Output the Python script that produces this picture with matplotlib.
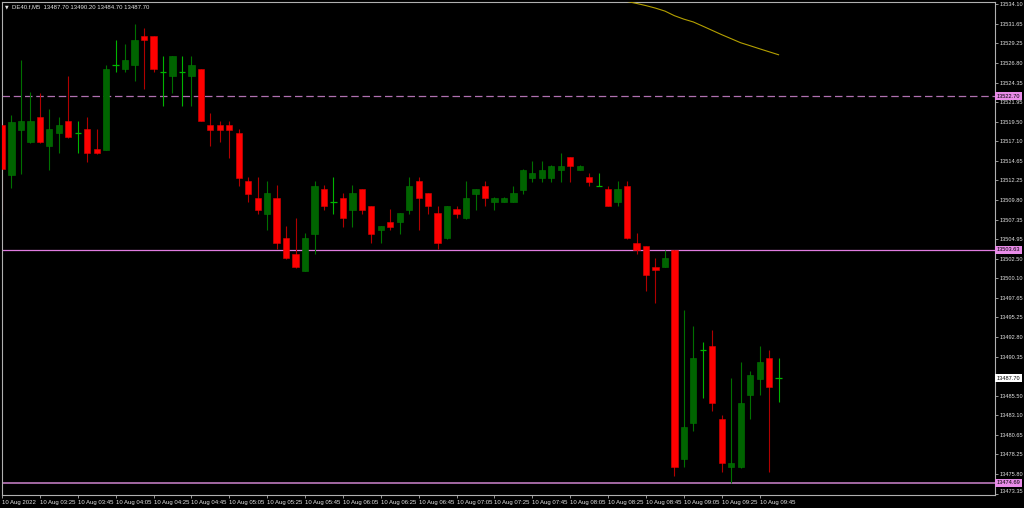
import matplotlib
matplotlib.use("Agg")
import matplotlib.pyplot as plt
import matplotlib.transforms as mtransforms
import numpy as np

plt.rcParams['font.family'] = ['Liberation Sans', 'DejaVu Sans']

# ---------------- data ----------------
symbol_header = "DE40.f,M5  13487.70 13490.20 13484.70 13487.70"

opens = [13519.11, 13512.88, 13518.52, 13517.03, 13520.11, 13516.53, 13518.08, 13519.61, 13518.10, 13518.61,
         13516.08, 13516.03, 13526.62, 13526.08, 13526.62, 13530.16, 13530.16, 13525.67, 13525.17, 13525.67,
         13525.17, 13526.08, 13519.11, 13519.11, 13519.11, 13518.11, 13512.10, 13510.11, 13508.03, 13510.11,
         13505.07, 13503.08, 13501.05, 13505.54, 13511.14, 13509.61, 13510.11, 13508.56, 13511.14, 13509.06,
         13506.07, 13507.07, 13507.07, 13508.56, 13512.10, 13510.64, 13508.15, 13505.04, 13508.65, 13507.53,
         13510.55, 13511.60, 13509.52, 13509.52, 13509.52, 13511.05, 13512.51, 13512.51, 13512.51, 13513.54,
         13515.09, 13513.54, 13512.60, 13511.60, 13511.14, 13509.52, 13511.60, 13504.50, 13504.04, 13501.51,
         13501.51, 13503.58, 13477.64, 13482.16, 13491.18, 13491.67, 13482.66, 13476.61, 13476.61, 13485.61,
         13487.64, 13490.18, 13487.70]
highs = [13519.98, 13520.39, 13527.12, 13523.18, 13523.09, 13521.10, 13520.11, 13525.17, 13519.61, 13520.11,
         13518.61, 13526.62, 13529.69, 13529.16, 13531.69, 13531.15, 13530.20, 13527.66, 13527.70, 13527.66,
         13527.66, 13526.10, 13520.60, 13519.61, 13519.61, 13518.61, 13512.60, 13512.60, 13512.10, 13511.64,
         13506.57, 13507.62, 13505.66, 13512.10, 13511.64, 13512.67, 13510.64, 13511.64, 13511.20, 13509.10,
         13506.60, 13508.65, 13508.20, 13512.67, 13512.67, 13510.70, 13509.06, 13509.10, 13509.06, 13512.10,
         13511.20, 13512.10, 13510.15, 13510.15, 13511.60, 13513.60, 13514.63, 13514.63, 13514.10, 13515.62,
         13515.10, 13514.10, 13513.13, 13513.13, 13511.60, 13512.10, 13512.10, 13505.66, 13504.10, 13502.55,
         13503.58, 13503.63, 13496.20, 13494.20, 13492.17, 13493.71, 13483.12, 13487.69, 13489.68, 13488.64,
         13491.71, 13491.18, 13490.20]
lows = [13508.03, 13511.23, 13513.09, 13516.90, 13516.90, 13513.51, 13515.58, 13517.50, 13515.58, 13514.54,
        13515.50, 13516.00, 13525.67, 13525.67, 13524.59, 13523.59, 13525.67, 13521.51, 13523.09, 13521.51,
        13521.51, 13519.60, 13516.53, 13517.03, 13515.04, 13511.55, 13509.56, 13508.03, 13506.07, 13503.67,
        13502.50, 13501.40, 13501.00, 13503.04, 13508.56, 13508.03, 13506.49, 13506.49, 13508.03, 13504.50,
        13504.50, 13506.07, 13505.54, 13508.03, 13506.07, 13508.03, 13503.67, 13505.00, 13507.53, 13507.50,
        13508.56, 13509.06, 13508.56, 13509.50, 13509.50, 13510.55, 13512.05, 13512.05, 13512.05, 13512.05,
        13512.05, 13513.50, 13511.55, 13511.55, 13509.00, 13509.06, 13505.00, 13503.04, 13498.56, 13497.03,
        13501.50, 13475.56, 13476.61, 13481.13, 13485.20, 13483.62, 13476.06, 13474.69, 13476.60, 13482.66,
        13485.61, 13476.06, 13484.70]
closes = [13513.63, 13519.52, 13519.61, 13519.61, 13517.03, 13518.61, 13519.11, 13517.58, 13518.08, 13515.58,
          13515.58, 13526.08, 13526.62, 13527.12, 13529.66, 13529.66, 13526.08, 13525.67, 13527.66, 13525.67,
          13526.62, 13519.61, 13518.52, 13518.52, 13518.52, 13512.55, 13510.55, 13508.56, 13510.64, 13504.50,
          13502.55, 13501.46, 13505.07, 13511.60, 13509.06, 13509.61, 13507.53, 13510.64, 13508.56, 13505.54,
          13506.57, 13506.49, 13508.15, 13511.60, 13510.02, 13509.06, 13504.50, 13509.06, 13508.03, 13510.11,
          13511.14, 13510.02, 13510.11, 13510.11, 13510.64, 13513.54, 13513.13, 13513.54, 13514.04, 13514.04,
          13514.04, 13514.04, 13512.05, 13511.60, 13509.06, 13511.14, 13505.04, 13503.58, 13500.55, 13501.09,
          13502.55, 13476.61, 13481.59, 13490.18, 13491.18, 13484.65, 13477.11, 13477.14, 13484.65, 13488.10,
          13489.68, 13486.64, 13487.70]

# moving average (only its visible tail, from bar 65 on)
ma_start = 65
ma_values = [13534.75, 13534.45, 13534.20, 13533.93, 13533.62, 13533.25, 13532.68, 13532.25, 13531.90,
             13531.38, 13530.85, 13530.32, 13529.82, 13529.32, 13528.95, 13528.57, 13528.20, 13527.83]

# horizontal levels
dashed_level = 13522.70
level_mid = 13503.63
level_low = 13474.69
last_price = 13487.70

# price-axis labels
ytick_values = [13534.10, 13531.65, 13529.25, 13526.80, 13524.35, 13521.95, 13519.50, 13517.10,
                13514.65, 13512.25, 13509.80, 13507.35, 13504.95, 13502.50, 13500.10, 13497.65,
                13495.25, 13492.80, 13490.35, 13485.50, 13483.10, 13480.65, 13478.25, 13475.80, 13473.35]

# time-axis labels (every 4 bars)
xtick_labels = ["10 Aug 2022", "10 Aug 03:25", "10 Aug 03:45", "10 Aug 04:05", "10 Aug 04:25",
                "10 Aug 04:45", "10 Aug 05:05", "10 Aug 05:25", "10 Aug 05:45", "10 Aug 06:05",
                "10 Aug 06:25", "10 Aug 06:45", "10 Aug 07:05", "10 Aug 07:25", "10 Aug 07:45",
                "10 Aug 08:05", "10 Aug 08:25", "10 Aug 08:45", "10 Aug 09:05", "10 Aug 09:25",
                "10 Aug 09:45"]
bars_per_label = 4

# ---------------- styling ----------------
BG = "black"
FG = "#e4e4e4"
FRAME = "#b0b0b0"
BULL = "#006400"
BULL_EDGE = "#007800"
BEAR = "#ff0000"
BEAR_EDGE = "#e00000"
BULL_WICK = "#007000"
BEAR_WICK = "#b00000"
DOJI = "#00b400"
LEVEL = "#e07ce0"
LEVEL_DASH = "#b070b0"
MA_COLOR = "#b4a000"
FS = 4.3
FSY = 4.1

W, H = 1024, 508
fig = plt.figure(figsize=(W / 100, H / 100), dpi=100, facecolor=BG)
ax = fig.add_axes([1.5 / W, (H - 495.3) / H, 993 / W, 493.8 / H], facecolor=BG)

n = len(opens)
x = np.arange(n)
body_w = 0.66

for i in range(n):
    o, h, l, c = opens[i], highs[i], lows[i], closes[i]
    if abs(c - o) < 0.1:
        ax.vlines(x[i], l, h, color=DOJI, lw=0.8, zorder=2)
        ax.hlines(c, x[i] - body_w / 2, x[i] + body_w / 2, color=DOJI, lw=0.9, zorder=3)
        continue
    bull = c > o
    ax.vlines(x[i], l, h, color=BULL_WICK if bull else BEAR_WICK, lw=0.8, zorder=2)
    ax.bar(x[i], abs(c - o), bottom=min(o, c), width=body_w,
           color=BULL if bull else BEAR, edgecolor=BULL_EDGE if bull else BEAR_EDGE,
           linewidth=0.4, zorder=3)

# moving average
ax.plot(np.arange(ma_start, ma_start + len(ma_values)), ma_values, color=MA_COLOR, lw=0.8, zorder=4)

# levels
ax.axhline(dashed_level, color=LEVEL_DASH, lw=0.9, dashes=(6, 3), zorder=1)
ax.axhline(level_mid, color=LEVEL, lw=0.9, zorder=1)
ax.axhline(level_low, color=LEVEL_DASH, lw=1.3, zorder=1)

ax.set_xlim(-0.05, 104.8)
ax.set_ylim(13473.15, 13534.44)

for sp in ax.spines.values():
    sp.set_color(FRAME)
    sp.set_linewidth(0.8)

# y axis on the right
ax.yaxis.tick_right()
ax.set_yticks(ytick_values)
ax.set_yticklabels([f"{v:.2f}" for v in ytick_values])
ax.tick_params(axis='y', colors=FRAME, labelcolor=FG, labelsize=FSY, length=2.5, width=0.6, pad=1.0)
ylabels = ax.get_yticklabels()
ylabels[-1].set_verticalalignment('bottom')

# x axis
xt = np.arange(0, bars_per_label * len(xtick_labels), bars_per_label)
ax.set_xticks(xt)
ax.set_xticklabels(xtick_labels)
ax.tick_params(axis='x', colors=FRAME, labelcolor=FG, labelsize=FS, length=2.5, width=0.6, pad=0.6)
for lbl in ax.get_xticklabels():
    lbl.set_horizontalalignment('left')

# price boxes on the right
trans = mtransforms.blended_transform_factory(ax.transAxes, ax.transData)
xbox = 1 + 2.0 / 993
for val, fc in [(dashed_level, "#e88ce8"), (level_mid, "#e88ce8"), (level_low, "#e88ce8"),
                (last_price, "#ffffff")]:
    ax.text(xbox, val, f"{val:.2f}", transform=trans, fontsize=FSY, color="black",
            ha='left', va='center', clip_on=False, zorder=10,
            bbox=dict(boxstyle="square,pad=0.3", facecolor=fc, edgecolor='none'))

# header
ax.text(3.5 / 993, 1 - 5 / 493.8, "\u25bc", transform=ax.transAxes, fontsize=3.4, color=FG,
        ha='left', va='center', family=['DejaVu Sans'])
ax.text(10 / 993, 1 - 5 / 493.8, symbol_header, transform=ax.transAxes, fontsize=FS, color=FG,
        ha='left', va='center')

fig.savefig("out.png", dpi=100, facecolor=BG)
